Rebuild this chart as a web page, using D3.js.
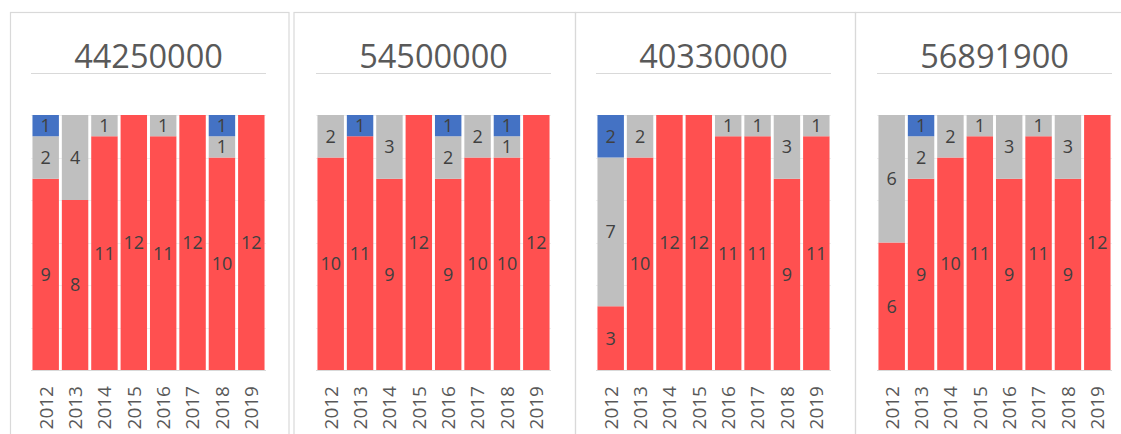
<!DOCTYPE html>
<html>
<head>
<meta charset="utf-8">
<script src="https://cdn.jsdelivr.net/npm/d3@7"></script>
<style>
  html, body { margin: 0; padding: 0; background: #ffffff; }
  svg { display: block; }
</style>
</head>
<body>
<svg id="chart" width="1121" height="434"></svg>
<script>
// ---- data ----
const years = ["2012", "2013", "2014", "2015", "2016", "2017", "2018", "2019"];
const titles = ["44250000", "54500000", "40330000", "56891900"];
const redValues = [
  [9, 8, 11, 12, 11, 12, 10, 12],
  [10, 11, 9, 12, 9, 10, 10, 12],
  [3, 10, 12, 12, 11, 11, 9, 11],
  [6, 9, 10, 11, 9, 11, 9, 12]
];
const grayValues = [
  [2, 4, 1, 0, 1, 0, 1, 0],
  [2, 0, 3, 0, 2, 2, 1, 0],
  [7, 2, 0, 0, 1, 1, 3, 1],
  [6, 2, 2, 1, 3, 1, 3, 0]
];
const blueValues = [
  [1, 0, 0, 0, 0, 0, 1, 0],
  [0, 1, 0, 0, 1, 0, 1, 0],
  [2, 0, 0, 0, 0, 0, 0, 0],
  [0, 1, 0, 0, 0, 0, 0, 0]
];
const seriesKeys = ["red", "gray", "blue"];
const yTicks = [0, 2, 4, 6, 8, 10, 12];

// ---- layout ----
const svg = d3.select("#chart");
const colors = { red: "#FF5050", gray: "#BFBFBF", blue: "#4472C4" };
const frameLefts = [10, 293.5, 575, 855];
const frameRights = [288.5, 575, 855, 1140];
const plotLefts = [31, 316, 596, 877];
const plotWidth = 235;
const plotTop = 115, plotBottom = 370;
const fontFam = "'Open Sans', 'Liberation Sans', Arial, sans-serif";

const y = d3.scaleLinear().domain([0, 12]).range([plotBottom, plotTop]);

titles.forEach((title, p) => {
  // panel frame
  svg.append("rect")
    .attr("x", frameLefts[p] + 0.5).attr("y", 12.5)
    .attr("width", frameRights[p] - frameLefts[p]).attr("height", 450)
    .attr("fill", "none").attr("stroke", "#d9d9d9").attr("stroke-width", 1.2);

  const g = svg.append("g");
  const x = d3.scaleBand().domain(years)
    .range([plotLefts[p], plotLefts[p] + plotWidth])
    .paddingInner(0.1).paddingOuter(0.05);

  // title + underline
  const cx = plotLefts[p] + plotWidth / 2;
  g.append("text").attr("x", cx).attr("y", 68)
    .attr("text-anchor", "middle")
    .attr("font-family", fontFam).attr("font-size", 32.5)
    .attr("fill", "#595959").text(title);
  g.append("line")
    .attr("x1", plotLefts[p]).attr("x2", plotLefts[p] + plotWidth)
    .attr("y1", 73.5).attr("y2", 73.5)
    .attr("stroke", "#d9d9d9").attr("stroke-width", 1.2);

  // gridlines
  g.selectAll("line.grid").data(yTicks).enter().append("line")
    .attr("class", "grid")
    .attr("x1", plotLefts[p]).attr("x2", plotLefts[p] + plotWidth)
    .attr("y1", d => Math.round(y(d)) + 0.5).attr("y2", d => Math.round(y(d)) + 0.5)
    .attr("stroke", d => d === 0 ? "#d9d9d9" : "#efefef").attr("stroke-width", 1);

  // stacked data
  const rows = years.map((yr, i) => ({
    year: yr,
    red: redValues[p][i], gray: grayValues[p][i], blue: blueValues[p][i]
  }));
  const stacked = d3.stack().keys(seriesKeys)(rows);

  stacked.forEach(layer => {
    const key = layer.key;
    const segs = layer.filter(d => d[1] - d[0] > 0);
    g.selectAll("rect.s-" + key).data(segs).enter().append("rect")
      .attr("class", "s-" + key)
      .attr("x", d => x(d.data.year))
      .attr("width", x.bandwidth())
      .attr("y", d => y(d[1]))
      .attr("height", d => y(d[0]) - y(d[1]))
      .attr("fill", colors[key]);
    g.selectAll("text.l-" + key).data(segs).enter().append("text")
      .attr("class", "l-" + key)
      .attr("x", d => x(d.data.year) + x.bandwidth() / 2)
      .attr("y", d => (y(d[0]) + y(d[1])) / 2)
      .attr("dy", "0.36em")
      .attr("text-anchor", "middle")
      .attr("font-family", fontFam).attr("font-size", 18)
      .attr("fill", "#404040")
      .text(d => d[1] - d[0]);
  });

  // x axis labels (rotated)
  g.selectAll("text.xl").data(years).enter().append("text")
    .attr("class", "xl")
    .attr("transform", d => `translate(${x(d) + x.bandwidth() / 2}, 386) rotate(-90)`)
    .attr("text-anchor", "end")
    .attr("dy", "0.36em")
    .attr("font-family", fontFam).attr("font-size", 19)
    .attr("fill", "#595959")
    .text(d => d);
});
</script>
</body>
</html>
